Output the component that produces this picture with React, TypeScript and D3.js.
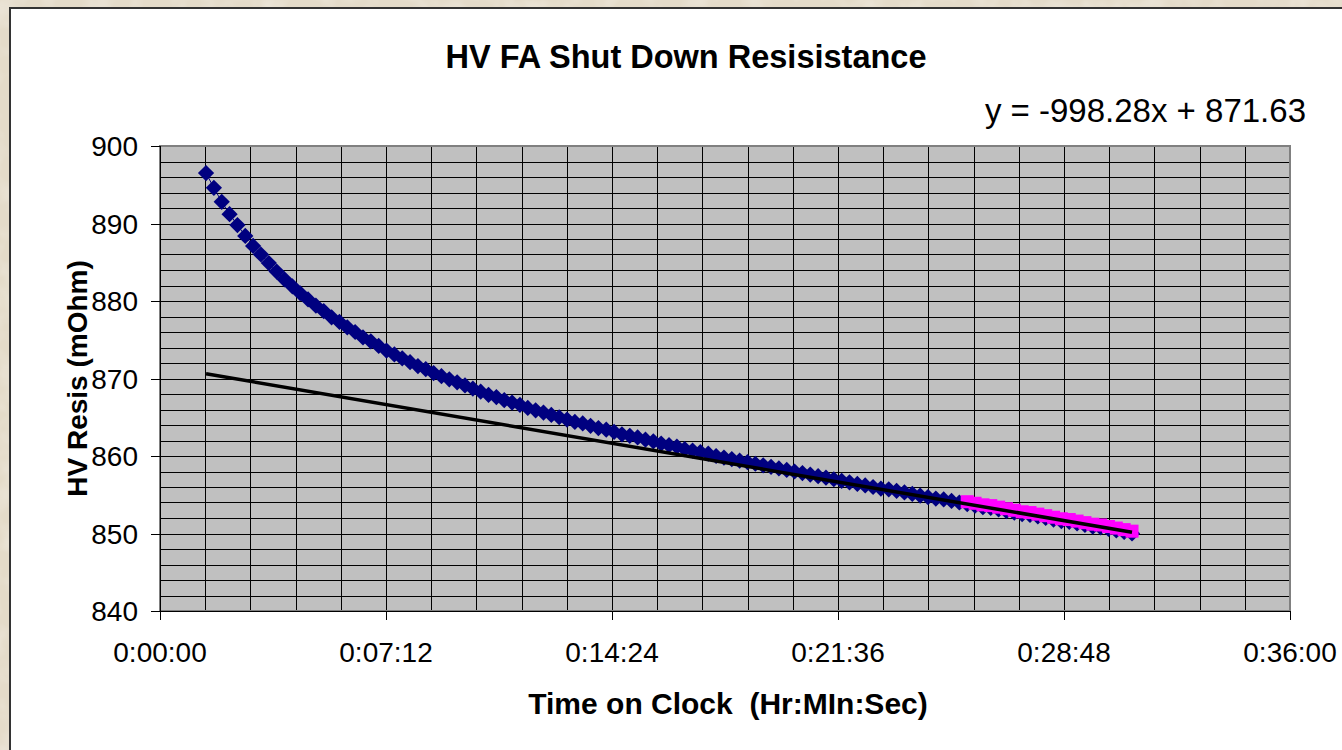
import React from "react";
import * as d3 from "d3";

// sample times (seconds on clock)
const TIME_SEC = [
  88, 103, 118, 133, 148, 163, 178, 193, 208, 223,
  238, 253, 268, 283, 298, 313, 328, 343, 358, 373,
  388, 403, 418, 433, 448, 463, 478, 493, 508, 523,
  538, 553, 568, 583, 598, 613, 628, 643, 658, 673,
  688, 703, 718, 733, 748, 763, 778, 793, 808, 823,
  838, 853, 868, 883, 898, 913, 928, 943, 958, 973,
  988, 1003, 1018, 1033, 1048, 1063, 1078, 1093, 1108, 1123,
  1138, 1153, 1168, 1183, 1198, 1213, 1228, 1243, 1258, 1273,
  1288, 1303, 1318, 1333, 1348, 1363, 1378, 1393, 1408, 1423,
  1438, 1453, 1468, 1483, 1498, 1513, 1528, 1543, 1558, 1573,
  1588, 1603, 1618, 1633, 1648, 1663, 1678, 1693, 1708, 1723,
  1738, 1753, 1768, 1783, 1798, 1813, 1828, 1843, 1858,
];

// HV resistance (mOhm), full run
const RESIS = [
  896.5, 894.6, 892.8, 891.2, 889.8, 888.4, 887.1, 886.0, 884.9, 883.8,
  882.8, 881.9, 881.0, 880.2, 879.4, 878.7, 877.9, 877.3, 876.6, 876.0,
  875.3, 874.8, 874.2, 873.6, 873.1, 872.6, 872.1, 871.6, 871.2, 870.7,
  870.3, 869.9, 869.5, 869.1, 868.7, 868.3, 867.9, 867.6, 867.2, 866.9,
  866.6, 866.2, 865.9, 865.6, 865.3, 865.0, 864.7, 864.4, 864.2, 863.9,
  863.6, 863.4, 863.1, 862.8, 862.6, 862.4, 862.1, 861.9, 861.6, 861.4,
  861.2, 860.9, 860.7, 860.5, 860.3, 860.0, 859.8, 859.6, 859.4, 859.2,
  859.0, 858.8, 858.6, 858.4, 858.2, 858.0, 857.8, 857.6, 857.4, 857.2,
  857.0, 856.8, 856.6, 856.4, 856.2, 856.0, 855.8, 855.7, 855.5, 855.3,
  855.1, 854.9, 854.7, 854.5, 854.4, 854.2, 854.0, 853.8, 853.6, 853.4,
  853.3, 853.1, 852.9, 852.7, 852.5, 852.4, 852.2, 852.0, 851.8, 851.6,
  851.5, 851.3, 851.1, 850.9, 850.8, 850.6, 850.4, 850.2, 850.0,
];

// fitted section (last part of the run)
const FIT_START = 97;
const FIT_RESIS = [
  854.1, 853.9, 853.7, 853.6, 853.4, 853.2, 853.0, 852.8, 852.7, 852.5, 852.3,
  852.1, 851.9, 851.8, 851.6, 851.4, 851.2, 851.1, 850.9, 850.7, 850.5, 850.3,
];

// linear trend, x in days
const TREND_SLOPE = -998.28;
const TREND_INTERCEPT = 871.63;
const TREND_LABEL = "y = -998.28x + 871.63";

const X_MAX = 2160;
const X_MAJOR = 432;
const X_MINOR = 86.4;
const Y_MIN = 840;
const Y_MAX = 900;

const W = 1342, H = 750;
const FONT = "'Liberation Sans', Arial, sans-serif";

const pad = (n: number) => String(n).padStart(2, "0");
const fmtClock = (s: number) => {
  const r = Math.round(s);
  return `${Math.floor(r / 3600)}:${pad(Math.floor((r % 3600) / 60))}:${pad(r % 60)}`;
};

export default function App() {
  const left = 160, right = 1290, top = 146, bottom = 611;
  const x = d3.scaleLinear().domain([0, X_MAX]).range([left, right]);
  const y = d3.scaleLinear().domain([Y_MIN, Y_MAX]).range([bottom, top]);

  const xMinor = d3.range(0, X_MAX + 1, X_MINOR);
  const xMajor = d3.range(0, X_MAX + 1, X_MAJOR);
  const yMinor = d3.range(Y_MIN, Y_MAX + 1, 2);
  const yMajor = d3.range(Y_MIN, Y_MAX + 1, 10);

  const pts = TIME_SEC.map((t, i) => [t, RESIS[i]] as [number, number]);
  const fitPts = FIT_RESIS.map((v, i) => [TIME_SEC[FIT_START + i], v] as [number, number]);

  const line = d3.line<[number, number]>().x(d => x(d[0])).y(d => y(d[1]));
  const diamond = d3.symbol().type(d3.symbolSquare).size(132)()!;
  const square = d3.symbol().type(d3.symbolSquare).size(170)()!;

  const t0 = TIME_SEC[0], t1 = TIME_SEC[TIME_SEC.length - 1];
  const trend = (s: number) => TREND_INTERCEPT + TREND_SLOPE * (s / 86400);

  return (
    <div style={{ position: "absolute", left: 0, top: 0 }}>
      <svg width={W} height={H} style={{ display: "block" }} fontFamily={FONT}>
        <defs>
          <filter id="paper" x="0" y="0" width="100%" height="100%">
            <feTurbulence type="fractalNoise" baseFrequency="0.035" numOctaves={3} seed={4} />
            <feColorMatrix type="matrix" values="0 0 0 0 1  0 0 0 0 1  0 0 0 0 1  1.3 0 0 0 -0.55" />
          </filter>
        </defs>
        <rect width={W} height={H} fill="#e4dbc9" />
        <rect width={W} height={H} filter="url(#paper)" opacity={0.5} />

        {/* chart area */}
        <rect x={10} y={8} width={W} height={H} fill="#fff" stroke="#333" strokeWidth={2} />

        <text x={686} y={68} textAnchor="middle" fontSize={32.5} fontWeight="bold">
          HV FA Shut Down Resisistance
        </text>

        {/* plot area */}
        <rect x={left} y={top} width={right - left} height={bottom - top} fill="#c0c0c0" />
        <g stroke="#000" strokeWidth={1} shapeRendering="crispEdges">
          {yMinor.map(v => (
            <line key={"h" + v} x1={left} x2={right} y1={Math.round(y(v)) + 0.5} y2={Math.round(y(v)) + 0.5} />
          ))}
          {xMinor.map(s => (
            <line key={"v" + s} x1={Math.round(x(s)) + 0.5} x2={Math.round(x(s)) + 0.5} y1={top} y2={bottom} />
          ))}
        </g>
        <rect x={left} y={top} width={right - left} height={bottom - top} fill="none" stroke="#808080" strokeWidth={2} />

        {/* axes */}
        <g stroke="#000" strokeWidth={1} shapeRendering="crispEdges">
          <line x1={left} x2={left} y1={top} y2={bottom} />
          <line x1={left} x2={right} y1={bottom} y2={bottom} />
          {yMajor.map(v => (
            <line key={"yt" + v} x1={left - 9} x2={left} y1={Math.round(y(v)) + 0.5} y2={Math.round(y(v)) + 0.5} />
          ))}
          {xMajor.map(s => (
            <line key={"xt" + s} x1={Math.round(x(s)) + 0.5} x2={Math.round(x(s)) + 0.5} y1={bottom} y2={bottom + 9} />
          ))}
        </g>
        <g fontSize={28} fill="#000">
          {yMajor.map(v => (
            <text key={"yl" + v} x={138} y={y(v) + 10} textAnchor="end">{v}</text>
          ))}
          {xMajor.map(s => (
            <text key={"xl" + s} x={x(s)} y={662} textAnchor="middle">{fmtClock(s)}</text>
          ))}
        </g>

        {/* series */}
        <path d={line(pts)!} fill="none" stroke="#000080" strokeWidth={1} />
        {pts.map((d, i) => (
          <path key={"b" + i} d={diamond} fill="#000080"
            transform={`translate(${x(d[0])},${y(d[1])}) rotate(45)`} />
        ))}
        {fitPts.map((d, i) => (
          <path key={"p" + i} d={square} fill="#ff00ff"
            transform={`translate(${x(d[0])},${y(d[1])})`} />
        ))}
        <line x1={x(t0)} y1={y(trend(t0))} x2={x(t1)} y2={y(trend(t1))} stroke="#000" strokeWidth={3.5} />

        <text x={1306} y={122} textAnchor="end" fontSize={33}>{TREND_LABEL}</text>

        <text x={728} y={714} textAnchor="middle" fontSize={30} fontWeight="bold" style={{ whiteSpace: "pre" }}>
          {"Time on Clock  (Hr:MIn:Sec)"}
        </text>
        <text transform={`translate(87,${(top + bottom) / 2}) rotate(-90)`} textAnchor="middle"
          fontSize={28} fontWeight="bold">
          HV Resis (mOhm)
        </text>
      </svg>
    </div>
  );
}
